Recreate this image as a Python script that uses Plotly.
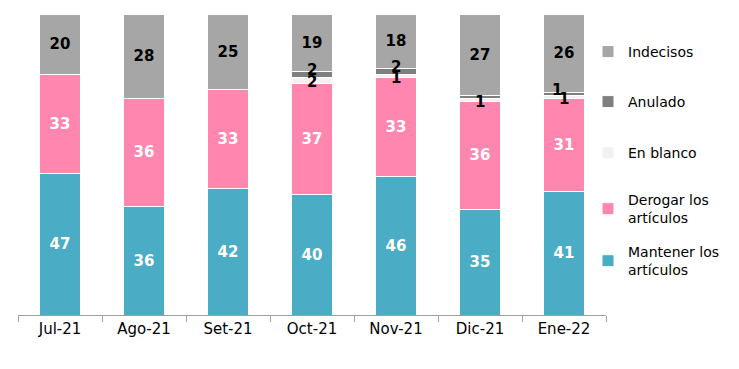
import plotly.graph_objects as go

months = ['Jul-21', 'Ago-21', 'Set-21', 'Oct-21', 'Nov-21', 'Dic-21', 'Ene-22']
mantener = [47, 36, 42, 40, 46, 35, 41]
derogar = [33, 36, 33, 37, 33, 36, 31]
en_blanco = [0, 0, 0, 2, 1, 1, 1]
anulado = [0, 0, 0, 2, 2, 1, 1]
indecisos = [20, 28, 25, 19, 18, 27, 26]
anulado_labels = ['', '', '', '2', '2', '', '1']

FONT = "DejaVu Sans"
W, H = 739, 369


def lbl(vals):
    return [str(v) if v else '' for v in vals]


# (name, values, colour, label colour, labels, legend y px, label via annotation?, yshift)
series = [
    ("Mantener los<br>artículos", mantener, "#4BACC6", "white", lbl(mantener), 261, False, 0),
    ("Derogar los<br>artículos", derogar, "#FF86AE", "white", lbl(derogar), 209, False, 0),
    ("En blanco", en_blanco, "#F2F2F2", "black", lbl(en_blanco), 153, True, -2),
    ("Anulado", anulado, "#7F7F7F", "black", anulado_labels, 102, True, 4),
    ("Indecisos", indecisos, "#A6A6A6", "black", lbl(indecisos), 52, False, 0),
]

fig = go.Figure()
layout_legends = {}
annotations = []
base = [0] * len(months)
for i, (name, vals, color, tcolor, texts, ypx, as_ann, yshift) in enumerate(series):
    key = "legend" if i == 0 else f"legend{i+1}"
    fig.add_trace(go.Bar(
        x=months, y=vals, name=name,
        marker=dict(color=color, line=dict(color="white", width=1)),
        text=None if as_ann else texts,
        textposition="inside", textangle=0,
        insidetextanchor="middle", constraintext="none",
        textfont=dict(family=FONT, size=15, color=tcolor, weight="bold"),
        legend=key, hoverinfo="skip",
    ))
    if as_ann:
        for j, (m, v, t) in enumerate(zip(months, vals, texts)):
            if t:
                annotations.append(dict(
                    x=m, y=base[j] + v / 2, xref="x", yref="y", text=t,
                    showarrow=False, yshift=yshift,
                    xshift=-7 if (name == "Anulado" and m == "Ene-22") else 0,
                    font=dict(family=FONT, size=15, color=tcolor, weight="bold"),
                ))
    base = [b + v for b, v in zip(base, vals)]
    layout_legends[key] = dict(
        x=588 / W, xref="container", xanchor="left",
        y=1 - ypx / H, yref="container", yanchor="middle",
        bgcolor="rgba(0,0,0,0)", borderwidth=0,
        font=dict(family=FONT, size=14, color="black"),
        valign="middle",
    )

fig.update_layout(
    width=W, height=H,
    barmode="stack", bargap=0.52,
    paper_bgcolor="white", plot_bgcolor="white",
    margin=dict(l=18, r=133, t=14, b=54, autoexpand=False),
    showlegend=True,
    annotations=annotations,
    **layout_legends,
)
fig.update_xaxes(
    showline=True, linecolor="#A0A0A0", linewidth=1,
    ticks="outside", tickson="boundaries", ticklen=6, tickcolor="#A0A0A0",
    tickfont=dict(family=FONT, size=15, color="black"),
    showgrid=False,
)
fig.update_yaxes(range=[0, 100], visible=False, showgrid=False)

fig.write_html("out.html", config={"displayModeBar": False},
               post_script="document.body.style.margin='0';")
